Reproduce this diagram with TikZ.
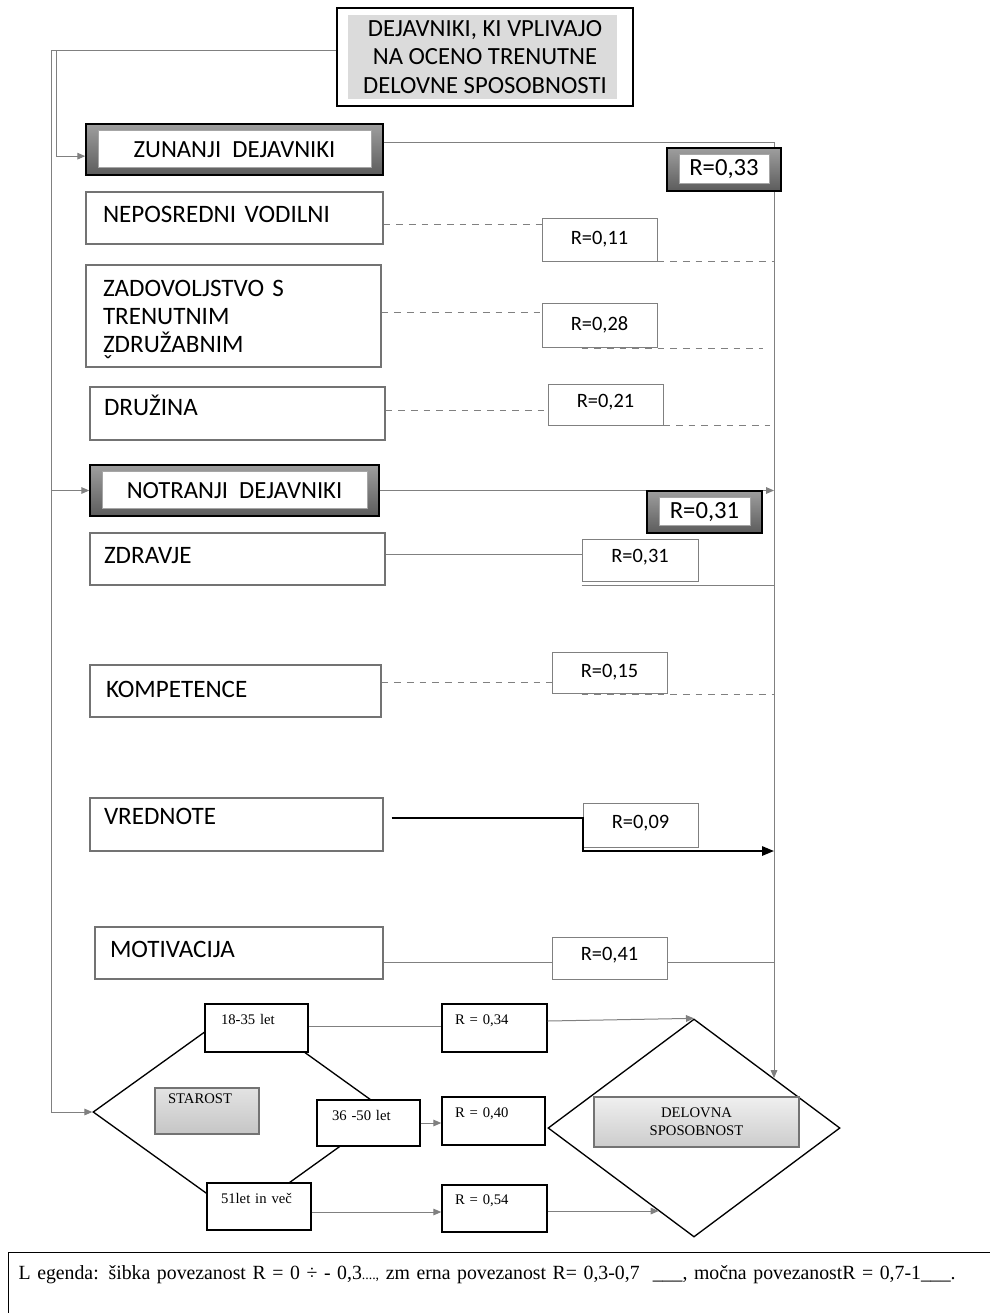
\documentclass[tikz,border=0pt]{standalone}
\usepackage{fontspec}
\usepackage{graphicx}
\setmainfont{Carlito}
\newfontfamily\serf{Liberation Serif}
\usetikzlibrary{arrows.meta,shapes.geometric}
\definecolor{bd}{gray}{0.45}
\definecolor{ln}{gray}{0.5}
\definecolor{fra}{gray}{0.62}
\definecolor{frb}{gray}{0.36}
\definecolor{ttl}{gray}{0.86}
\newcommand\fsz[2]{\fontsize{#1}{#2}\selectfont}
\newcommand\drawbox[8][]{%
 \pgfmathsetmacro\dbW{(#5-#3)*0.75}%
 \pgfmathsetmacro\dbH{(#6-#4)*0.75}%
 \pgfmathsetmacro\dbT{(#5-#3-2*#7)*0.75}%
 \pgfmathsetmacro\dbP{#7*0.75}%
 \pgfmathsetmacro\dbX{(#3+#5)/2}%
 \pgfmathsetmacro\dbY{(#4+#6)/2}%
 \node[box, minimum width=\dbW pt, minimum height=\dbH pt, #1] (#2) at (\dbX,\dbY) {#8};}
\begin{document}
\begin{tikzpicture}[x=0.75pt,y=-0.75pt,
 box/.style={draw=bd, line width=0.8pt, fill=white, inner sep=0pt},
 lt/.style={align=left, text width=\dbT pt, inner xsep=\dbP pt},
 txt/.style n args={2}{text height=#1, text depth=#2},
 lbox/.style={lt, font=\fsz{18.8}{21}},
 frame/.style={draw=black, line width=1.1pt, top color=fra, bottom color=frb, align=center,
   path picture={\fill[white, draw=gray!70, line width=0.4pt]
     ([shift={(9pt,-4.5pt)}]path picture bounding box.north west) rectangle
     ([shift={(-9pt,6pt)}]path picture bounding box.south east);}},
 title/.style={draw=black, line width=1pt, align=center, font=\fsz{18.5}{21.4},
   path picture={\fill[ttl]
     ([shift={(8.25pt,-5.25pt)}]path picture bounding box.north west) rectangle
     ([shift={(-12pt,5.25pt)}]path picture bounding box.south east);}},
 rbox/.style={draw=ln, line width=0.6pt, font=\fsz{15.3}{17}},
 sbox/.style={draw=black, line width=1.1pt, font=\serf\fsz{11}{13}, lt, txt={8pt}{14pt}},
 conn/.style={draw=ln, line width=0.75pt},
 dsh/.style={conn, dash pattern=on 5pt off 4.5pt},
 arr/.style={-{Triangle[length=6pt,width=5pt]}},
 strong/.style={draw=black, line width=1.5pt, -{Triangle[length=9pt,width=7pt]}}
]
\useasboundingbox (0,0) rectangle (989,1313);
\coordinate (bus) at (774,0);

% title and group headers
\drawbox[title]{title}{337}{8}{633}{106}{0}{DEJAVNIKI, KI VPLIVAJO\\NA OCENO TRENUTNE\\DELOVNE SPOSOBNOSTI}
\drawbox[frame, font=\fsz{18.5}{21}]{zun}{86}{124}{383}{175}{0}{ZUNANJI\ \ DEJAVNIKI}
\drawbox[frame, font=\fsz{18.5}{21}]{notr}{90}{465}{379}{516}{0}{NOTRANJI\ \ DEJAVNIKI}

% factor boxes
\drawbox[lbox, txt={12pt}{6pt}]{nep}{86}{192}{383}{244}{17}{NEPOSREDNI VODILNI}
\drawbox[lbox]{zad}{86}{265}{381}{367}{17}{ZADOVOLJSTVO S\\TRENUTNIM\\\leavevmode\rlap{\raisebox{-15.5pt}[0pt][0pt]{ˇ}}ZDRUŽABNIM}
\drawbox[lbox, txt={12pt}{9pt}]{dru}{90}{387}{385}{440}{14}{DRUŽINA}
\drawbox[lbox, txt={12pt}{6pt}]{zdr}{90}{533}{385}{585}{14}{ZDRAVJE}
\drawbox[lbox, txt={12pt}{3pt}]{komp}{90}{665}{381}{717}{16}{KOMPETENCE}
\drawbox[lbox, txt={12pt}{12pt}]{vred}{90}{798}{383}{851}{14}{VREDNOTE}
\drawbox[lbox, txt={12pt}{6pt}]{mot}{95}{927}{383}{979}{15}{MOTIVACIJA}

% R boxes
\drawbox[rbox]{r11}{542}{218}{657}{261}{0}{R=0,11}
\drawbox[rbox]{r28}{542}{303}{657}{347}{0}{R=0,28}
\drawbox[rbox, txt={10pt}{6pt}]{r21}{548}{384}{663}{425}{0}{R=0,21}
\drawbox[rbox, txt={10pt}{6pt}]{r31s}{582}{539}{698}{581}{0}{R=0,31}
\drawbox[rbox]{r15}{552}{652}{667}{693}{0}{R=0,15}
\drawbox[rbox, txt={10pt}{5pt}]{r09}{583}{803}{698}{847}{0}{R=0,09}
\drawbox[rbox, txt={10pt}{6pt}]{r41}{552}{937}{667}{979}{0}{R=0,41}

% age part
\node[diamond, draw=black, line width=1pt, inner sep=0pt, minimum width=221.25pt, minimum height=159pt] (star) at (240.5,1112) {};
\drawbox[sbox]{a1}{205}{1004}{308}{1052}{16}{18-35 let}
\drawbox[sbox, txt={8pt}{12pt}]{a2}{317}{1100}{420}{1146}{15}{36 -50 let}
\drawbox[sbox, txt={8pt}{12pt}]{a3}{207}{1183}{311}{1230}{14}{51let in več}
\drawbox[sbox, draw=bd, line width=0.8pt, top color=gray!22, bottom color=gray!45, txt={8pt}{18.6pt}]{staro}{155}{1088}{259}{1134}{13}{STAROST}
\drawbox[sbox]{r34}{442}{1004}{547}{1052}{13}{R = 0,34}
\drawbox[sbox]{r40}{442}{1097}{545}{1145}{13}{R = 0,40}
\drawbox[sbox]{r54}{442}{1185}{547}{1232}{13}{R = 0,54}
\node[diamond, draw=black, line width=1pt, fill=white, inner sep=0pt, minimum width=219pt, minimum height=163.5pt] (del) at (694,1128) {};
\drawbox[draw=bd, line width=0.8pt, top color=gray!12, bottom color=gray!40, align=center, font=\serf\fsz{11}{13.5}]{delr}{594}{1097}{799}{1147}{0}{DELOVNA\\SPOSOBNOST}

% left bus
\draw[conn, arr] (title.west |- 0,51) -| (star.west -| 51,0) -- (star.west);
\draw[conn, arr] (56,51) |- ([yshift=-5pt]zun.west);
\draw[conn, arr] (notr.west -| 51,0) -- (notr.west);

% right bus
\draw[conn, arr] ([yshift=5pt]zun.east) -| (del.32 -| bus);
\draw[conn, arr] (notr.east) -- (notr.east -| bus);

% external factors
\draw[dsh] (nep.east |- 0,224) -- (r11.west |- 0,224);
\draw[dsh] ([xshift=30pt]r11.south west) -- (r11.south west -| bus);
\draw[dsh] (zad.east |- 0,312) -- (r28.west |- 0,312);
\draw[dsh] ([xshift=30pt,yshift=-0.75pt]r28.south west) -- ([yshift=-0.75pt]r28.south west -| 763,0);
\draw[dsh] (dru.east |- 0,410) -- (r21.west |- 0,410);
\draw[dsh] (r21.south east) -- (r21.south east -| 770,0);

% internal factors
\draw[conn] (zdr.east |- 0,554) -- (r31s.west |- 0,554);
\draw[conn] (r31s.south west |- 0,585) -- (bus |- 0,585);
\draw[dsh] (komp.east |- 0,682) -- (r15.west |- 0,682);
\draw[dsh] ([xshift=22.5pt,yshift=-0.75pt]r15.south west) -- ([yshift=-0.75pt]r15.south west -| bus);
\draw[strong] ([xshift=6pt]vred.east |- 0,818) -| (r09.west |- 0,851) -- (bus |- 0,851);
\draw[conn] (mot.east |- 0,962) -- (r41.west |- 0,962);
\draw[conn] (r41.east |- 0,962) -- (bus |- 0,962);

% age connectors
\draw[conn] (a1.east |- 0,1026) -- (r34.west |- 0,1026);
\draw[conn, arr] (a2.east) -- (a2.east -| r40.west);
\draw[conn, arr] (a3.east |- 0,1212) -- (r54.west |- 0,1212);
\draw[conn, arr] (r34.east |- 0,1021) -- (del.north);
\draw[conn, arr] (r54.east |- 0,1211) -- (del.247 |- 0,1211);

% overlays
\drawbox[frame, font=\fsz{18.5}{21}]{r33}{667}{148}{781}{191}{0}{R=0,33}
\drawbox[frame, font=\fsz{18.5}{21}]{r31}{647}{491}{762}{533}{0}{R=0,31}

% legend
\node[draw=black, line width=0.9pt, anchor=north west, inner xsep=7.5pt, inner ysep=10pt, text width=760pt, align=left, text depth=45pt, font=\serf] (leg) at (8,1252) {\resizebox{702.75pt}{10.5pt}{L egenda: šibka povezanost R = 0 ÷ - 0,3{\scriptsize....,} zm erna povezanost R= 0,3-0,7 \ \_\_\_, močna povezanostR = 0,7-1\_\_\_.}};
\end{tikzpicture}
\end{document}
